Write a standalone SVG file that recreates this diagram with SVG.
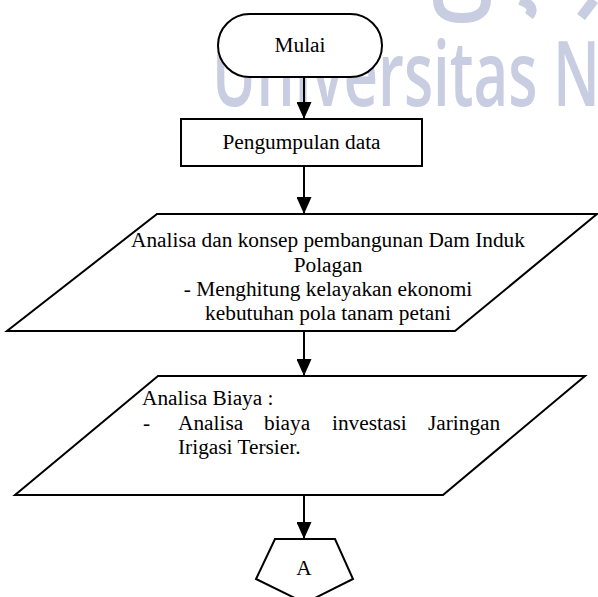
<svg xmlns="http://www.w3.org/2000/svg" width="598" height="597" viewBox="0 0 598 597">
<style>
.wm{font-family:"Open Sans","DejaVu Sans",sans-serif;font-weight:600;font-size:60px;fill:#c8cde2}
.logo{fill:none;stroke:#c8cde2;stroke-width:10}
.shape{fill:#ffffff;stroke:#000000;stroke-width:2}
.t{font-family:"Liberation Serif","Times New Roman",serif;font-size:21.33px;fill:#000000}
.c{text-anchor:middle}
.conn{stroke:#000000;stroke-width:2;fill:none}
</style>
<defs>
<marker id="ah" markerUnits="userSpaceOnUse" markerWidth="17" markerHeight="15" refX="17" refY="7.5" orient="auto">
<path d="M0,0 L17,7.5 L0,15 z" fill="#000000"/>
</marker>
</defs>
<rect x="0" y="0" width="598" height="597" fill="#ffffff"/>
<g id="watermark">
<path class="logo" d="M438,0 Q438,18 462,18 Q486,18 486,0"/>
<path class="logo" d="M520,0 Q537,6 529,16"/>
<path class="logo" d="M581,17 L594,0"/>
<text class="wm" transform="translate(212,106) scale(1,1.5)" x="0" y="0">Universitas N</text>
</g>
<g id="connectors">
<line class="conn" x1="304" y1="77" x2="304" y2="119" marker-end="url(#ah)"/>
<line class="conn" x1="304" y1="166" x2="304" y2="214" marker-end="url(#ah)"/>
<line class="conn" x1="304" y1="331" x2="304" y2="376" marker-end="url(#ah)"/>
<line class="conn" x1="304" y1="495" x2="304" y2="539" marker-end="url(#ah)"/>
</g>
<g id="mulai">
<rect class="shape" x="218" y="14" width="164" height="63" rx="31.5" ry="31.5"/>
<text class="t c" x="300" y="52">Mulai</text>
</g>
<g id="pengumpulan">
<rect class="shape" x="181" y="119" width="241" height="47"/>
<text class="t c" x="301.5" y="149">Pengumpulan data</text>
</g>
<g id="analisa-konsep">
<polygon class="shape" points="157,214 597,214 455,331 7,331"/>
<text class="t c" x="328" y="247">Analisa dan konsep pembangunan Dam Induk</text>
<text class="t c" x="328" y="271.5">Polagan</text>
<text class="t c" x="328" y="296">- Menghitung kelayakan ekonomi</text>
<text class="t c" x="328" y="320">kebutuhan pola tanam petani</text>
</g>
<g id="analisa-biaya">
<polygon class="shape" points="158,376 585,376 443,495 15,495"/>
<text class="t" x="142" y="405">Analisa Biaya :</text>
<text class="t" y="430"><tspan x="143">-</tspan><tspan x="178">Analisa</tspan><tspan x="264">biaya</tspan><tspan x="332">investasi</tspan><tspan x="428">Jaringan</tspan></text>
<text class="t" x="178" y="454">Irigasi Tersier.</text>
</g>
<g id="konektor-a">
<polygon class="shape" points="275,539 335,539 353,579 305,603 256,579"/>
<text class="t c" x="304" y="575">A</text>
</g>
</svg>
